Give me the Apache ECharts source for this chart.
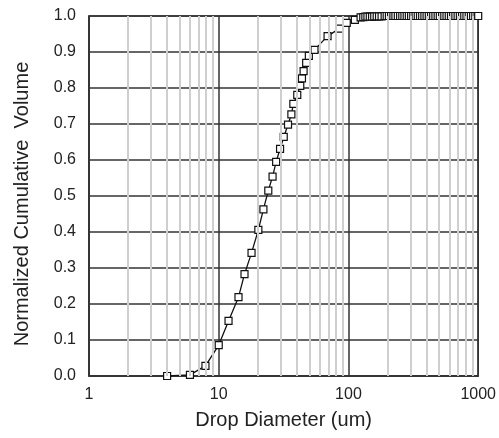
<!DOCTYPE html>
<html>
<head>
<meta charset="utf-8">
<script src="https://cdn.jsdelivr.net/npm/echarts@6/dist/echarts.min.js"></script>
<style>
  html, body { margin: 0; padding: 0; background: #fff; }
  #chart { width: 499px; height: 438px; }
</style>
</head>
<body>
<div id="chart"></div>
<script>
// drop diameter (um) and normalized cumulative volume
var diameters = [
  4.0, 6.0, 7.9, 10.0, 11.9, 14.2, 15.8, 17.9, 20.2, 22.1, 24.1, 26.0, 27.7,
  29.7, 31.7, 34.2, 36.3, 37.6, 40.3, 42.5, 43.8, 45.1, 47.2, 49.5, 54.7,
  69.0, 85.0, 97.0, 112, 124, 130, 135, 140, 146, 152, 158, 165, 172, 180,
  190, 197, 205, 213, 222, 230, 240, 250, 260, 270, 281, 292, 304, 316,
  329, 342, 356, 370, 385, 400, 416, 433, 450, 468, 487, 506, 527, 548,
  570, 593, 617, 641, 667, 694, 722, 751, 781, 812, 845, 879, 914, 950,
  989, 1000
];
var cumVolume = [
  0.000, 0.003, 0.028, 0.086, 0.153, 0.219, 0.283, 0.342, 0.406, 0.463,
  0.515, 0.554, 0.595, 0.631, 0.664, 0.698, 0.727, 0.756, 0.781, 0.806,
  0.827, 0.847, 0.870, 0.889, 0.906, 0.944, 0.965, 0.981, 0.989, 0.996,
  0.997, 0.998, 0.998, 0.998, 0.998, 0.999, 0.999, 0.999, 0.999,
  1.000, 1.000, 1.000, 1.000, 1.000, 1.000, 1.000, 1.000, 1.000, 1.000,
  1.000, 1.000, 1.000, 1.000, 1.000, 1.000, 1.000, 1.000, 1.000, 1.000,
  1.000, 1.000, 1.000, 1.000, 1.000, 1.000, 1.000, 1.000, 1.000, 1.000,
  1.000, 1.000, 1.000, 1.000, 1.000, 1.000, 1.000, 1.000, 1.000, 1.000,
  1.000, 1.000, 1.000, 1.000
];
// minor log grid positions
var minorTicks = [2, 3, 4, 5, 6, 7, 8, 9, 20, 30, 40, 50, 60, 70, 80, 90,
  200, 300, 400, 500, 600, 700, 800, 900];

var FONT = '"Liberation Sans", Arial, sans-serif';

var chart = echarts.init(document.getElementById('chart'), null, { renderer: 'canvas' });

var points = diameters.map(function (d, i) { return [d, cumVolume[i]]; });

var option = {
  animation: false,
  backgroundColor: '#fff',
  grid: {
    left: 89, right: 18, top: 16, bottom: 62,
    show: true, borderColor: '#333', borderWidth: 1.5, backgroundColor: 'transparent'
  },
  xAxis: {
    type: 'log', logBase: 10, min: 1, max: 1000, z: 1.5,
    name: 'Drop Diameter (um)', nameLocation: 'middle', nameGap: 34,
    nameTextStyle: { fontFamily: FONT, fontSize: 20, color: '#222' },
    axisLine: { show: true, lineStyle: { color: '#333', width: 1.5 } },
    axisTick: { show: false },
    axisLabel: {
      fontFamily: FONT, fontSize: 16, color: '#222', margin: 11,
      formatter: function (v) { return String(Math.round(v)); }
    },
    splitLine: { show: true, lineStyle: { color: '#333', width: 1.5 } }
  },
  yAxis: {
    type: 'value', min: 0, max: 1, interval: 0.1, z: 1.5,
    name: 'Normalized Cumulative  Volume', nameLocation: 'middle', nameGap: 57,
    nameTextStyle: {
      fontFamily: FONT, fontSize: 20, color: '#222',
      padding: [0, 16, 0, 0]
    },
    axisLine: { show: true, lineStyle: { color: '#333', width: 1.5 } },
    axisTick: { show: false },
    axisLabel: {
      fontFamily: FONT, fontSize: 16, color: '#222', margin: 13,
      formatter: function (v) { return v.toFixed(1); }
    },
    splitLine: { show: true, lineStyle: { color: '#333', width: 1.5 } }
  },
  series: [
    {
      // minor vertical gridlines
      type: 'line', data: [], z: 1, silent: true,
      markLine: {
        silent: true, symbol: 'none', animation: false,
        label: { show: false },
        lineStyle: { color: '#cfcfcf', width: 2, type: 'solid' },
        data: minorTicks.map(function (v) { return { xAxis: v }; })
      }
    },
    {
      type: 'line', data: points, z: 3,
      symbol: 'rect', symbolSize: 7, showSymbol: true,
      lineStyle: { color: '#111', width: 1.3 },
      itemStyle: { color: '#fff', borderColor: '#111', borderWidth: 1.2 }
    }
  ]
};

chart.setOption(option);
</script>
</body>
</html>
